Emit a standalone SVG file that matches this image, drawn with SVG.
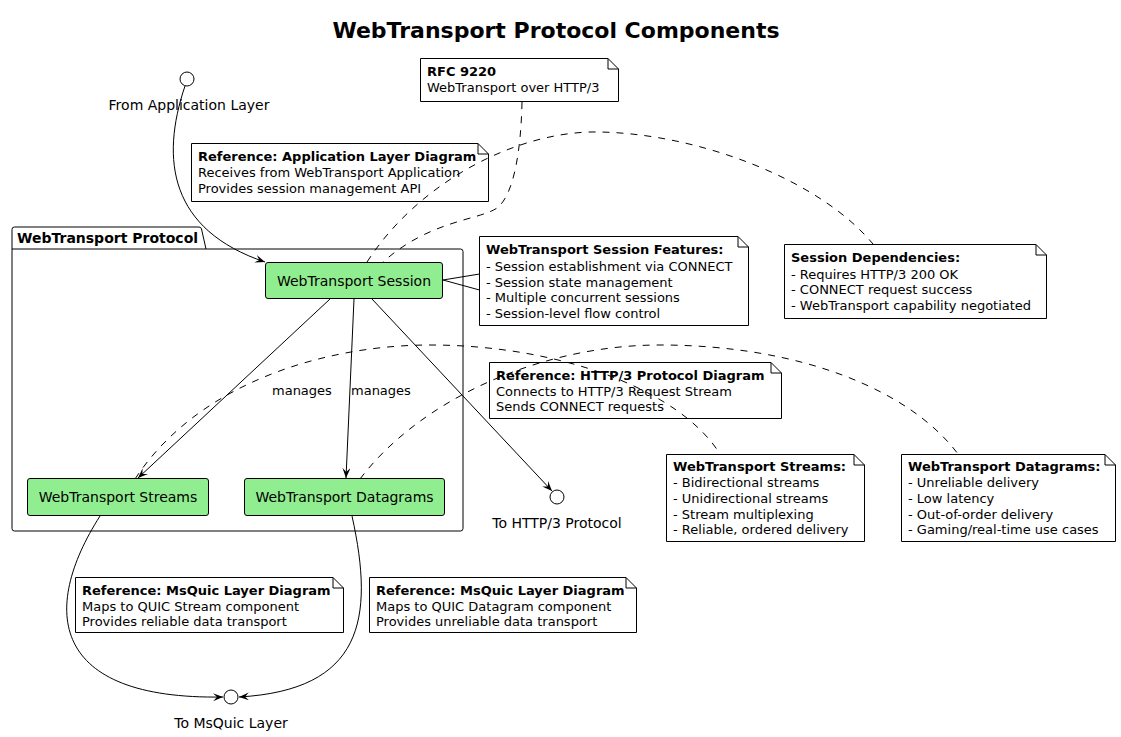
<svg xmlns="http://www.w3.org/2000/svg" width="1121" height="737" viewBox="0 0 1121 737">
<style>
text{font-family:"DejaVu Sans","Liberation Sans",sans-serif;fill:#000}
.title{font-size:22px;font-weight:bold}
.pkg{font-size:14px;font-weight:bold}
.node rect{fill:#90EE90;stroke:#000;stroke-width:1}
.node text{font-size:14px;text-anchor:middle}
.iface circle{fill:#fff;stroke:#000;stroke-width:1}
.iface text{font-size:14px;text-anchor:middle}
.note path{fill:#fff;stroke:#000;stroke-width:1}
.note text{font-size:13px}
.note .b{font-weight:bold}
.edge{fill:none;stroke:#000;stroke-width:1}
.dash{fill:none;stroke:#000;stroke-width:1;stroke-dasharray:7,7}
.lbl{font-size:13px}
</style>
<defs>
<marker id="arr" markerUnits="userSpaceOnUse" markerWidth="12" markerHeight="10" refX="10" refY="4" orient="auto">
<path d="M0,0 L10,4 L0,8 L4,4 Z" fill="#000"/>
</marker>
</defs>
<rect width="1121" height="737" fill="#fff"/>
<text class="title" x="556" y="38" text-anchor="middle">WebTransport Protocol Components</text>

<g id="pkg-webtransport">
<path d="M14.5,227 L199,227 Q201,227 201.5,229 L206,249 L460.5,249 Q463,249 463,251.5 L463,528.5 Q463,531 460.5,531 L14.5,531 Q12,531 12,528.5 L12,229.5 Q12,227 14.5,227 Z" fill="none" stroke="#000" stroke-width="1"/>
<line x1="12" y1="249" x2="206" y2="249" stroke="#000" stroke-width="1"/>
<text class="pkg" x="17" y="243">WebTransport Protocol</text>
</g>

<g id="session" class="node"><rect x="265.5" y="262.5" width="177" height="36" rx="2.5"/><text x="354" y="286">WebTransport Session</text></g>
<g id="streams" class="node"><rect x="27.5" y="478.5" width="181" height="37" rx="2.5"/><text x="118" y="502">WebTransport Streams</text></g>
<g id="datagrams" class="node"><rect x="244.5" y="478.5" width="200" height="37" rx="2.5"/><text x="344.5" y="502">WebTransport Datagrams</text></g>

<g id="from-app" class="iface"><circle cx="187" cy="79" r="7"/><text x="189" y="110">From Application Layer</text></g>
<g id="to-http3" class="iface"><circle cx="557" cy="497" r="7"/><text x="557" y="528">To HTTP/3 Protocol</text></g>
<g id="to-msquic" class="iface"><circle cx="231" cy="697" r="7"/><text x="231" y="728">To MsQuic Layer</text></g>

<g id="note-rfc" class="note"><path d="M420.5,58.5 L608,58.5 L618.5,69 L618.5,101.5 L420.5,101.5 Z M608,58.5 L608,69 L618.5,69"/>
<text x="427" y="76" class="b">RFC 9220</text><text x="427" y="92">WebTransport over HTTP/3</text></g>

<g id="note-app" class="note"><path d="M191.5,143.5 L478,143.5 L488.5,154 L488.5,201.5 L191.5,201.5 Z M478,143.5 L478,154 L488.5,154"/>
<text x="198" y="161" class="b">Reference: Application Layer Diagram</text><text x="198" y="177">Receives from WebTransport Application</text><text x="198" y="193">Provides session management API</text></g>

<g id="note-features" class="note"><path d="M479.5,236.5 L738,236.5 L748.5,247 L748.5,325.5 L479.5,325.5 Z M738,236.5 L738,247 L748.5,247"/>
<text x="486" y="254" class="b">WebTransport Session Features:</text><text x="486" y="271">- Session establishment via CONNECT</text><text x="486" y="287">- Session state management</text><text x="486" y="302">- Multiple concurrent sessions</text><text x="486" y="318">- Session-level flow control</text></g>

<g id="note-deps" class="note"><path d="M784.5,244.5 L1036,244.5 L1046.5,255 L1046.5,318.5 L784.5,318.5 Z M1036,244.5 L1036,255 L1046.5,255"/>
<text x="791" y="262" class="b">Session Dependencies:</text><text x="791" y="279">- Requires HTTP/3 200 OK</text><text x="791" y="294">- CONNECT request success</text><text x="791" y="310">- WebTransport capability negotiated</text></g>

<g id="note-http3" class="note"><path d="M489.5,362.5 L771,362.5 L781.5,373 L781.5,418.5 L489.5,418.5 Z M771,362.5 L771,373 L781.5,373"/>
<text x="496" y="380" class="b">Reference: HTTP/3 Protocol Diagram</text><text x="496" y="396">Connects to HTTP/3 Request Stream</text><text x="496" y="411">Sends CONNECT requests</text></g>

<g id="note-streams" class="note"><path d="M666.5,454.5 L854,454.5 L864.5,465 L864.5,541.5 L666.5,541.5 Z M854,454.5 L854,465 L864.5,465"/>
<text x="673" y="471" class="b">WebTransport Streams:</text><text x="673" y="487">- Bidirectional streams</text><text x="673" y="503">- Unidirectional streams</text><text x="673" y="519">- Stream multiplexing</text><text x="673" y="534">- Reliable, ordered delivery</text></g>

<g id="note-datagrams" class="note"><path d="M901.5,454.5 L1105,454.5 L1115.5,465 L1115.5,541.5 L901.5,541.5 Z M1105,454.5 L1105,465 L1115.5,465"/>
<text x="908" y="471" class="b">WebTransport Datagrams:</text><text x="908" y="487">- Unreliable delivery</text><text x="908" y="503">- Low latency</text><text x="908" y="519">- Out-of-order delivery</text><text x="908" y="534">- Gaming/real-time use cases</text></g>

<g id="note-msquic-streams" class="note"><path d="M75.5,577.5 L333,577.5 L343.5,588 L343.5,632.5 L75.5,632.5 Z M333,577.5 L333,588 L343.5,588"/>
<text x="82" y="595" class="b">Reference: MsQuic Layer Diagram</text><text x="82" y="611">Maps to QUIC Stream component</text><text x="82" y="626">Provides reliable data transport</text></g>

<g id="note-msquic-datagrams" class="note"><path d="M369.5,577.5 L626,577.5 L636.5,588 L636.5,632.5 L369.5,632.5 Z M626,577.5 L626,588 L636.5,588"/>
<text x="376" y="595" class="b">Reference: MsQuic Layer Diagram</text><text x="376" y="611">Maps to QUIC Datagram component</text><text x="376" y="626">Provides unreliable data transport</text></g>

<g id="connectors">
<path class="edge" d="M185,86 C160,160 170,230 265,262" marker-end="url(#arr)"/>
<path class="edge" d="M330,299 L138,478" marker-end="url(#arr)"/>
<path class="edge" d="M354,299 L346,478" marker-end="url(#arr)"/>
<path class="edge" d="M372,299 L552,491" marker-end="url(#arr)"/>
<path class="edge" d="M100,516 C40,610 50,700 223,697" marker-end="url(#arr)"/>
<path class="edge" d="M352,516 C375,620 362,690 239,697" marker-end="url(#arr)"/>
<text class="lbl" x="272" y="395">manages</text>
<text class="lbl" x="351" y="395">manages</text>
<path class="dash" d="M522,102 C521,150 514,195 497,208 C480,220 430,220 383,262"/>
<path class="dash" d="M367,262 C420,180 520,130 600,132 C700,134 820,180 873,244"/>
<path class="dash" d="M135,479 C200,380 330,345 430,345 C560,345 680,390 720,454"/>
<path class="dash" d="M360,479 C420,400 540,345 660,345 C800,345 910,390 958,454"/>
<polyline class="edge" points="479.5,274 443,280 479.5,290"/>
</g>
</svg>
